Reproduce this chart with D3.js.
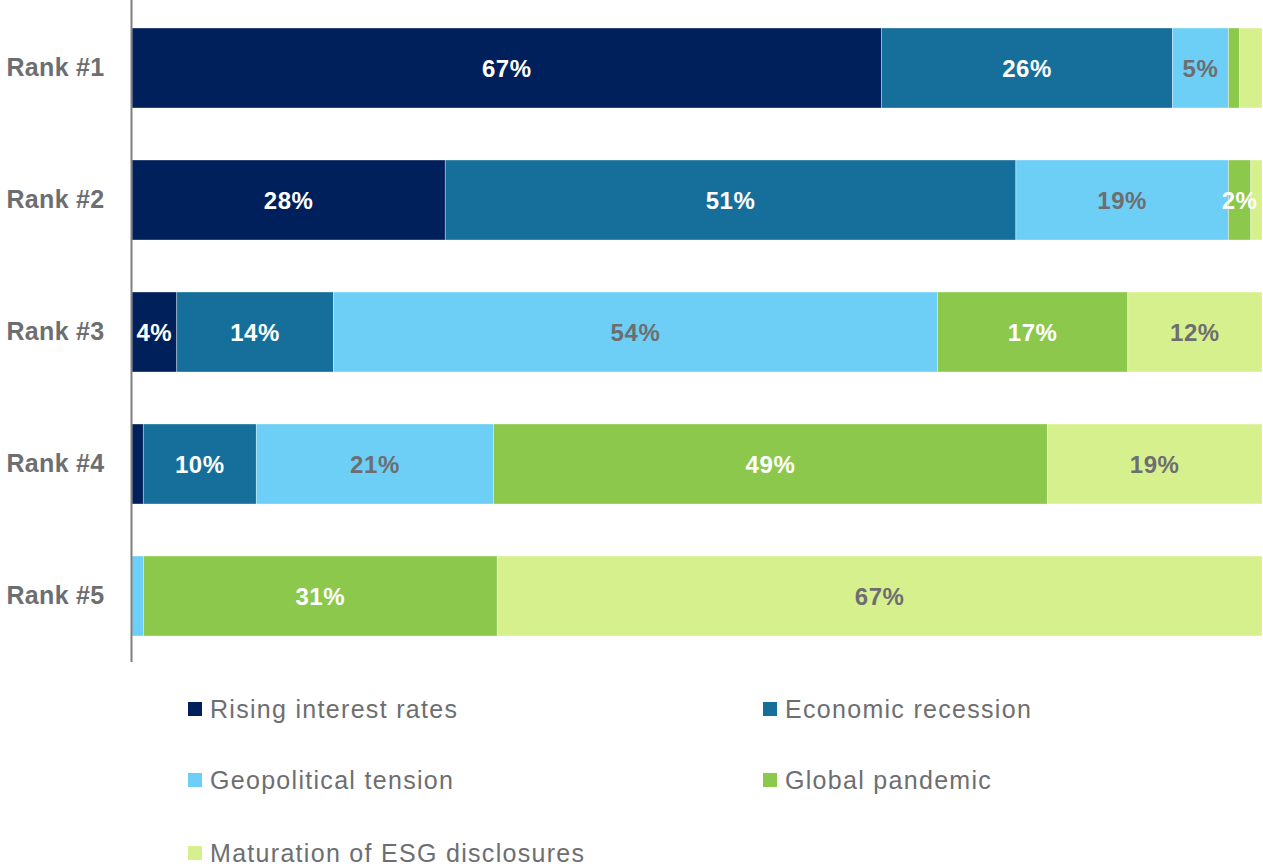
<!DOCTYPE html>
<html>
<head>
<meta charset="utf-8">
<script src="https://cdn.jsdelivr.net/npm/d3@7"></script>
<style>
  html, body { margin: 0; padding: 0; background: #fff; }
  svg { display: block; font-family: "Liberation Sans", Arial, sans-serif; }
</style>
</head>
<body>
<svg id="chart" width="1263" height="867"></svg>
<script>
// Share of respondents placing each risk at each rank
const ranks = ["Rank #1", "Rank #2", "Rank #3", "Rank #4", "Rank #5"];
const seriesNames = ["Rising interest rates", "Economic recession", "Geopolitical tension", "Global pandemic", "Maturation of ESG disclosures"];
const risingRates = [67, 28, 4, 1, 0];
const recession   = [26, 51, 14, 10, 0];
const geopolitics = [5, 19, 54, 21, 1];
const pandemic    = [1, 2, 17, 49, 31];
const esg         = [2, 1, 12, 19, 67];

// Segment labels shown on the bars ("" = no label)
const risingLabels    = ["67%", "28%", "4%", "", ""];
const recessionLabels = ["26%", "51%", "14%", "10%", ""];
const geoLabels       = ["5%", "19%", "54%", "21%", ""];
const pandemicLabels  = ["", "2%", "17%", "49%", "31%"];
const esgLabels       = ["", "", "12%", "19%", "67%"];

const colors = ["#00205b", "#166f9b", "#6dcff6", "#8cc84b", "#d7f08e"];
const labelColors = ["#ffffff", "#ffffff", "#6d6e71", "#ffffff", "#6d6e71"];

const seriesValues = [risingRates, recession, geopolitics, pandemic, esg];
const seriesLabels = [risingLabels, recessionLabels, geoLabels, pandemicLabels, esgLabels];
const rows = ranks.map((r, i) => {
  const o = { rank: r, idx: i };
  seriesNames.forEach((s, j) => { o[s] = seriesValues[j][i]; });
  return o;
});

const svg = d3.select("#chart");
const left = 132, right = 1262;

const x = d3.scaleLinear().domain([0, 1]).range([left, right]);
const y = d3.scaleBand().domain(ranks).range([2, 662])
  .paddingInner(0.394).paddingOuter(0.197);

const stack = d3.stack().keys(seriesNames).offset(d3.stackOffsetExpand);
const stacked = stack(rows);

const layers = svg.append("g").selectAll("g")
  .data(stacked).join("g")
  .attr("fill", (d, i) => colors[i]);

layers.selectAll("rect")
  .data(d => d.map(p => ({ p, key: d.key })))
  .join("rect")
  .attr("x", d => x(d.p[0]))
  .attr("width", d => Math.max(0, x(d.p[1]) - x(d.p[0])))
  .attr("y", d => y(d.p.data.rank))
  .attr("height", y.bandwidth())
  .attr("stroke", "#ffffff")
  .attr("stroke-opacity", 0.45)
  .attr("stroke-width", 0.75);

// Percentage labels on the segments
stacked.forEach((layer, i) => {
  const labels = seriesLabels[i];
  svg.append("g").selectAll("text")
    .data(layer.filter(p => labels[p.data.idx] !== ""))
    .join("text")
    .attr("x", p => (x(p[0]) + x(p[1])) / 2)
    .attr("y", p => y(p.data.rank) + y.bandwidth() / 2)
    .attr("dy", "0.36em")
    .attr("text-anchor", "middle")
    .attr("font-size", 24)
    .attr("font-weight", "bold")
    .attr("letter-spacing", 0.6)
    .attr("fill", labelColors[i])
    .text(p => labels[p.data.idx]);
});

// Category axis
const yAxis = svg.append("g")
  .attr("transform", `translate(${left - 0.5},0)`)
  .call(d3.axisLeft(y).tickSize(0).tickPadding(27));
yAxis.select(".domain").attr("d", "M0,0V662").attr("stroke", "#7f7f7f").attr("stroke-width", 2);
yAxis.selectAll("text")
  .attr("font-size", 25)
  .attr("font-weight", "bold")
  .attr("letter-spacing", 0.3)
  .attr("fill", "#6d6e71")
  .attr("font-family", "'Liberation Sans', Arial, sans-serif");

// Legend
const legendPos = [[188, 709], [763, 709], [188, 780], [763, 780], [188, 853]];
const legend = svg.append("g").selectAll("g")
  .data(seriesNames).join("g")
  .attr("transform", (d, i) => `translate(${legendPos[i][0]},${legendPos[i][1]})`);
legend.append("rect")
  .attr("x", 0).attr("y", -7).attr("width", 14).attr("height", 14)
  .attr("fill", (d, i) => colors[i]);
legend.append("text")
  .attr("x", 22).attr("y", 0).attr("dy", "0.36em")
  .attr("font-size", 25)
  .attr("letter-spacing", 1.3)
  .attr("fill", "#6d6e71")
  .text(d => d);
</script>
</body>
</html>
